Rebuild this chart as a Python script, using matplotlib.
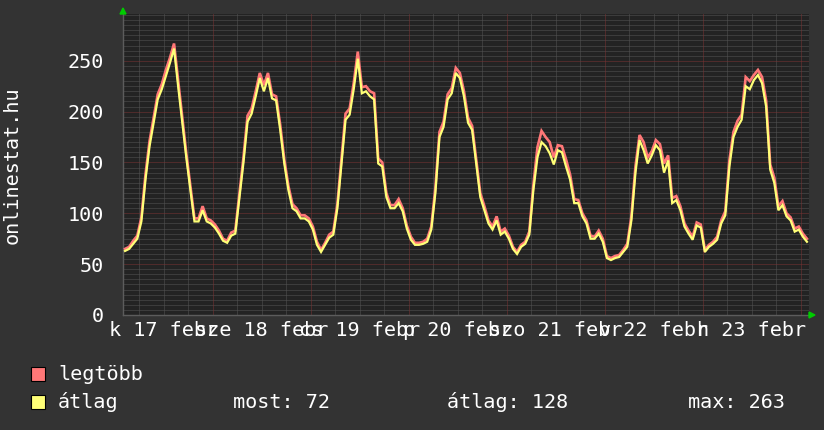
import numpy as np
import matplotlib
matplotlib.use("Agg")
import matplotlib.pyplot as plt
from matplotlib.patches import Polygon, Rectangle

# hourly values, hours counted from feb 17 00:00, first bin starts at hour 2
start_hour = 2
avg_vals = [
    63, 65, 70, 75, 92, 133, 166, 189, 212, 222, 235, 248, 262, 225, 190, 155,
    123, 92, 92, 103, 92, 90, 86, 80, 73, 71, 78, 80, 115, 150, 190, 198,
    215, 233, 220, 233, 213, 211, 182, 149, 123, 105, 102, 95, 95, 92, 84, 69,
    62, 69, 76, 79, 105, 149, 192, 197, 222, 252, 218, 220, 215, 212, 149, 146,
    116, 105, 105, 110, 102, 85, 74, 69, 69, 70, 72, 84, 120, 175, 185, 212,
    218, 238, 233, 215, 189, 182, 149, 116, 103, 90, 84, 93, 79, 82, 75, 65,
    60, 67, 70, 79, 123, 155, 170, 166, 159, 148, 162, 160, 146, 133, 110, 110,
    97, 90, 75, 75, 80, 72, 56, 54, 56, 57, 62, 67, 93, 140, 172, 162,
    149, 157, 167, 162, 140, 152, 110, 113, 103, 87, 80, 74, 88, 86, 62, 67,
    70, 74, 90, 98, 146, 175, 185, 192, 225, 222, 231, 236, 228, 205, 143, 130,
    103, 108, 97, 93, 82, 84, 77, 72,
]
max_vals = [
    65, 67, 73, 78, 96, 138, 171, 194, 217, 227, 241, 253, 267, 231, 195, 159,
    127, 95, 95, 107, 95, 93, 89, 83, 75, 73, 81, 83, 119, 155, 196, 203,
    220, 238, 226, 238, 217, 215, 187, 153, 127, 109, 105, 98, 98, 95, 87, 72,
    64, 71, 79, 82, 109, 154, 198, 203, 228, 259, 224, 225, 220, 218, 154, 150,
    120, 108, 108, 114, 105, 88, 77, 71, 71, 72, 75, 87, 125, 180, 190, 217,
    223, 243, 238, 220, 194, 186, 153, 120, 107, 93, 87, 97, 82, 85, 78, 67,
    62, 69, 72, 82, 128, 165, 181, 175, 170, 155, 167, 166, 153, 138, 114, 113,
    100, 93, 78, 77, 83, 75, 58, 56, 58, 59, 64, 70, 97, 146, 177, 170,
    155, 161, 172, 168, 149, 157, 115, 117, 107, 90, 83, 77, 91, 89, 64, 69,
    72, 77, 93, 102, 152, 180, 191, 197, 234, 230, 236, 241, 234, 211, 148, 135,
    107, 112, 100, 96, 85, 87, 80, 75,
]
day_labels = ["k 17 febr", "sze 18 febr", "cs 19 febr", "p 20 febr",
              "szo 21 febr", "v 22 febr", "h 23 febr"]
y_ticks = [0, 50, 100, 150, 200, 250]
legend_names = ["legtöbb", "átlag"]
stats = ["most: 72", "átlag: 128", "max: 263"]

BG = "#333333"
PLOT_BG = "#232323"
RED = "#ff7777"
YELLOW = "#ffff77"
MINOR = "#555555"
MAJOR = "#7c3434"
FONT = "DejaVu Sans Mono"
FS = 14.5

W, H = 824, 430
fig = plt.figure(figsize=(W / 100, H / 100), dpi=100, facecolor=BG)
ax = fig.add_axes([123 / W, 1 - 315 / H, 686 / W, 301 / H], facecolor=PLOT_BG)

n = len(avg_vals)
x0, x1 = start_hour, start_hour + n
hours = np.arange(n) + start_hour + 0.5
ax.set_xlim(x0, x1)
ax.set_ylim(0, 296)

dot = (0, (1, 1))
for h in range(6, x1, 6):
    if h % 24:
        ax.axvline(h, color=MINOR, lw=0.72, ls=dot, zorder=1)
for v in range(5, 296, 5):
    if v % 50:
        ax.axhline(v, color=MINOR, lw=0.72, ls=dot, zorder=1)
for h in range(24, x1, 24):
    ax.axvline(h, color=MAJOR, lw=0.72, ls=dot, zorder=1.5)
for v in y_ticks[1:]:
    ax.axhline(v, color=MAJOR, lw=0.72, ls=dot, zorder=1.5)

ax.plot(hours, max_vals, color=RED, lw=1.9, zorder=3,
        solid_joinstyle="miter")
ax.plot(hours, avg_vals, color=YELLOW, lw=1.6, zorder=4,
        solid_joinstyle="miter")

for s in ["top", "right"]:
    ax.spines[s].set_visible(False)
for s in ["left", "bottom"]:
    ax.spines[s].set_color("#5c5c5c")
    ax.spines[s].set_linewidth(1)

ax.set_xticks([])
ax.set_yticks(y_ticks)
ax.set_yticklabels([str(v) for v in y_ticks], fontfamily=FONT, fontsize=FS,
                   color="white")
ax.tick_params(axis="y", length=0, pad=14)

for i, lab in enumerate(day_labels):
    ax.text(12 + 24 * i, -6, lab, ha="center", va="top", color="white",
            fontfamily=FONT, fontsize=FS, zorder=5)

fig.text(12 / W, 1 - 165 / H, "onlinestat.hu", rotation=90, ha="center",
         va="center", color="white", fontfamily=FONT, fontsize=FS)

# green axis arrows
def px(x, y):
    return (x / W, 1 - y / H)

fig.add_artist(Polygon([px(120, 14), px(126, 14), px(123, 8)],
                       closed=True, color="#00cc00", transform=fig.transFigure))
fig.add_artist(Polygon([px(809, 312), px(809, 318), px(815, 315)],
                       closed=True, color="#00cc00", transform=fig.transFigure))

# legend
for (name, col, yc) in [(legend_names[0], RED, 374), (legend_names[1], YELLOW, 402)]:
    fig.add_artist(Rectangle(px(31, yc + 7), 14 / W, 14 / H, facecolor=col,
                             edgecolor="black", lw=0.8, transform=fig.transFigure))
    fig.text(58 / W, 1 - yc / H, name, ha="left", va="center", color="white",
             fontfamily=FONT, fontsize=FS)
for s, xs in zip(stats, [233, 447, 688]):
    fig.text(xs / W, 1 - 402 / H, s, ha="left", va="center", color="white",
             fontfamily=FONT, fontsize=FS)

fig.savefig("out.png", dpi=100, facecolor=BG)
